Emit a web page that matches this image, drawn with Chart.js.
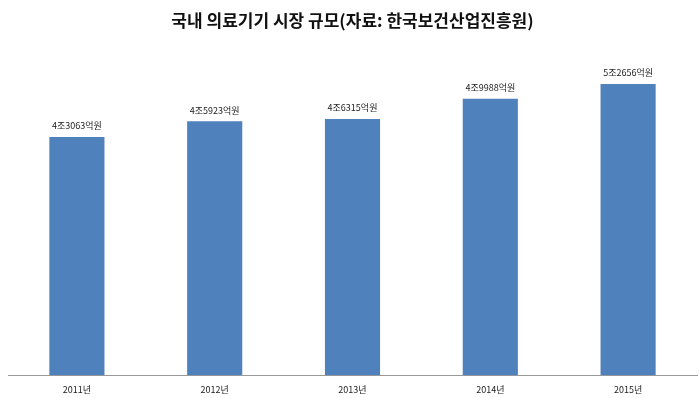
<!DOCTYPE html>
<html>
<head>
<meta charset="utf-8">
<script src="https://cdn.jsdelivr.net/npm/chart.js@4"></script>
<style>
  html, body { margin: 0; padding: 0; background: #fff; }
</style>
</head>
<body>
<canvas id="marketChart" width="700" height="398"></canvas>
<script>
// 국내 의료기기 시장 규모 (억원)
const years = ["2011년", "2012년", "2013년", "2014년", "2015년"];
const marketSize = [43063, 45923, 46315, 49988, 52656];
const valueLabels = ["4조3063억원", "4조5923억원", "4조6315억원", "4조9988억원", "5조2656억원"];

const fontFamily = "'Noto Sans CJK KR', 'Noto Sans', sans-serif";

// draw value text above each bar
const barLabels = {
  id: "barLabels",
  afterDatasetsDraw(chart) {
    const ctx = chart.ctx;
    const meta = chart.getDatasetMeta(0);
    ctx.save();
    ctx.font = "9px " + fontFamily;
    ctx.fillStyle = "#222";
    ctx.textAlign = "center";
    ctx.textBaseline = "middle";
    meta.data.forEach(function (bar, i) {
      ctx.fillText(valueLabels[i], bar.x, bar.y - 11);
    });
    ctx.restore();
  }
};

new Chart(document.getElementById("marketChart").getContext("2d"), {
  type: "bar",
  data: {
    labels: years,
    datasets: [
      {
        data: marketSize,
        backgroundColor: "#4f81bd",
        barPercentage: 0.4,
        categoryPercentage: 1.0
      }
    ]
  },
  options: {
    responsive: false,
    animation: false,
    layout: { padding: { left: 8, right: 3, top: 0, bottom: -6 } },
    plugins: {
      legend: { display: false },
      tooltip: { enabled: false },
      title: {
        display: true,
        text: "국내 의료기기 시장 규모(자료: 한국보건산업진흥원)",
        color: "#111",
        font: { family: fontFamily, size: 17, weight: "bold", lineHeight: 1.2 },
        padding: { top: 10, bottom: 13 }
      }
    },
    scales: {
      x: {
        grid: { display: false, drawTicks: false },
        border: { display: true, color: "#999", width: 1 },
        ticks: {
          color: "#222",
          font: { family: fontFamily, size: 9 },
          padding: 9
        }
      },
      y: {
        display: false,
        min: 0,
        max: 60000
      }
    }
  },
  plugins: [barLabels]
});
</script>
</body>
</html>
